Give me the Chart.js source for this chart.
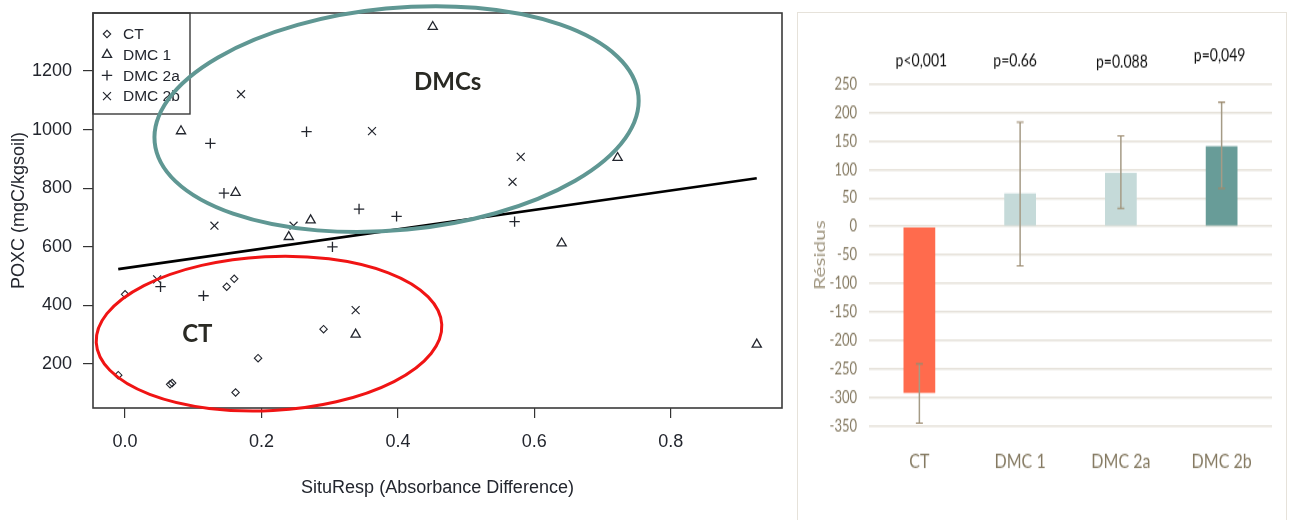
<!DOCTYPE html>
<html><head><meta charset="utf-8">
<script src="https://cdn.jsdelivr.net/npm/chart.js@4/dist/chart.umd.min.js"></script>
<style>
html,body{margin:0;padding:0;background:#fff;width:1291px;height:520px;overflow:hidden;}
#left{position:absolute;left:0;top:0;}
#panel{position:absolute;left:797px;top:12px;width:490px;height:560px;border:1px solid #e6e2da;box-sizing:border-box;}
#right{position:absolute;left:798px;top:13px;transform:scaleY(1.3);transform-origin:0 0;}
</style></head><body>
<canvas id="left" width="790" height="520"></canvas>
<div id="panel"></div>
<canvas id="right" width="488" height="390"></canvas>
<script>
// ---------- Left panel data (scatter) ----------
const ctX    = [-0.010, 0.000, 0.066, 0.069, 0.149, 0.160, 0.162, 0.195, 0.291];
const ctY    = [162, 438, 131, 135, 464, 491, 103, 220, 319];
const dmc1X  = [0.082, 0.162, 0.240, 0.272, 0.451, 0.722, 0.640, 0.338, 0.926];
const dmc1Y  = [995, 785, 634, 691, 1351, 904, 612, 301, 267];
const dmc2aX = [0.125, 0.266, 0.145, 0.343, 0.398, 0.304, 0.571, 0.052, 0.115];
const dmc2aY = [953, 993, 783, 729, 704, 600, 686, 464, 433];
const dmc2bX = [0.170, 0.362, 0.131, 0.247, 0.580, 0.568, 0.047, 0.338];
const dmc2bY = [1121, 995, 672, 672, 907, 822, 489, 384];
const fitX   = [-0.010, 0.926];
const fitY   = [524, 834];
const xTicks = [0, 0.2, 0.4, 0.6, 0.8];
const yTicks = [200, 400, 600, 800, 1000, 1200];

// ---------- Right panel data (bars) ----------
const categories = ['CT', 'DMC 1', 'DMC 2a', 'DMC 2b'];
const residuals  = [-292, 58, 94, 141];
const errorLow   = [-345, -69, 32, 67];
const errorHigh  = [-241, 183, 159, 218];
const pLabels    = ['p<0,001', 'p=0.66', 'p=0.088', 'p=0,049'];
const rightTicks = [250, 200, 150, 100, 50, 0, -50, -100, -150, -200, -250, -300, -350];

const zip = (xs, ys) => xs.map((x, i) => ({x: x, y: ys[i]}));
const RFONT = "'Liberation Sans', Arial, sans-serif";
const INK = '#23262e';
const noPad = s => { s.paddingTop = 0; s.paddingBottom = 0; s.paddingLeft = 0; s.paddingRight = 0; };

// box around plot area
const boxPlugin = {
  id: 'box',
  afterDraw(chart) {
    const a = chart.chartArea, ctx = chart.ctx;
    ctx.save();
    ctx.strokeStyle = '#3a3a3a'; ctx.lineWidth = 1.6;
    ctx.strokeRect(a.left, a.top, a.right - a.left, a.bottom - a.top);
    ctx.restore();
  }
};

// legend drawn inside plot, from datasets
const insetLegend = {
  id: 'insetLegend',
  afterDraw(chart, args, opts) {
    const a = chart.chartArea, ctx = chart.ctx;
    ctx.save();
    ctx.strokeStyle = '#3a3a3a'; ctx.lineWidth = 1.4;
    ctx.strokeRect(a.left, a.top, opts.w, opts.h);
    chart.data.datasets.filter(d => d.inLegend).forEach((ds, i) => {
      const y = a.top + opts.first + i * opts.step;
      ctx.strokeStyle = INK; ctx.fillStyle = 'rgba(0,0,0,0)';
      ctx.lineWidth = ds.borderWidth;
      Chart.helpers.drawPoint(ctx, {pointStyle: ds.pointStyle, radius: ds.pointRadius, borderWidth: ds.borderWidth, rotation: 0}, a.left + opts.sym, y);
      ctx.fillStyle = INK; ctx.font = '15.5px ' + RFONT;
      ctx.textBaseline = 'middle'; ctx.textAlign = 'left';
      ctx.fillText(ds.label, a.left + opts.txt, y + 1);
    });
    ctx.restore();
  }
};

// ellipse annotations + labels, positioned in data coordinates
const groupMarks = {
  id: 'groupMarks',
  afterDraw(chart, args, opts) {
    const ctx = chart.ctx, sx = chart.scales.x, sy = chart.scales.y;
    ctx.save();
    opts.ellipses.forEach(e => {
      ctx.beginPath();
      ctx.ellipse(sx.getPixelForValue(e.cx), sy.getPixelForValue(e.cy), e.rx, e.ry, e.rot * Math.PI / 180, 0, Math.PI * 2);
      ctx.strokeStyle = e.color; ctx.lineWidth = e.width; ctx.stroke();
    });
    opts.texts.forEach(t => {
      ctx.font = "bold 24px Lato, 'Open Sans', sans-serif";
      ctx.fillStyle = '#2a2a24'; ctx.textAlign = 'center'; ctx.textBaseline = 'middle';
      ctx.fillText(t.text, sx.getPixelForValue(t.x), sy.getPixelForValue(t.y));
    });
    ctx.restore();
  }
};

const pointBase = {borderColor: INK, backgroundColor: 'rgba(0,0,0,0)', showLine: false, inLegend: true};

new Chart(document.getElementById('left'), {
  type: 'scatter',
  data: {
    datasets: [
      Object.assign({label: 'CT', data: zip(ctX, ctY), pointStyle: 'rectRot', pointRadius: 3.7, borderWidth: 1.1}, pointBase),
      Object.assign({label: 'DMC 1', data: zip(dmc1X, dmc1Y), pointStyle: 'triangle', pointRadius: 5.3, borderWidth: 1.3}, pointBase),
      Object.assign({label: 'DMC 2a', data: zip(dmc2aX, dmc2aY), pointStyle: 'cross', pointRadius: 5.2, borderWidth: 1.3}, pointBase),
      Object.assign({label: 'DMC 2b', data: zip(dmc2bX, dmc2bY), pointStyle: 'crossRot', pointRadius: 5.6, borderWidth: 1.2}, pointBase),
      {type: 'line', label: 'fit', data: zip(fitX, fitY), borderColor: '#000', borderWidth: 2.6, pointRadius: 0, showLine: true, fill: false, inLegend: false}
    ]
  },
  options: {
    responsive: false, animation: false, events: [],
    layout: {padding: {top: 13, right: 8, left: 0, bottom: 0}},
    plugins: {
      legend: {display: false}, tooltip: {enabled: false},
      insetLegend: {w: 97, h: 101, first: 21, step: 20.7, sym: 14, txt: 30},
      groupMarks: {
        ellipses: [
          {cx: 0.398, cy: 1036, rx: 243, ry: 111, rot: -5.5, color: '#5f9793', width: 4},
          {cx: 0.211, cy: 304, rx: 173, ry: 77, rot: -3, color: '#f01414', width: 3}
        ],
        texts: [{text: 'DMCs', x: 0.473, y: 1160}, {text: 'CT', x: 0.106, y: 302}]
      }
    },
    scales: {
      x: {
        type: 'linear', min: -0.047, max: 0.963,
        afterBuildTicks: s => { s.ticks = xTicks.map(v => ({value: v})); },
        afterFit: s => { s.height = 112; noPad(s); },
        grid: {drawOnChartArea: false, drawTicks: true, tickLength: 10, color: '#333', lineWidth: 1.2},
        border: {display: false},
        ticks: {font: {family: RFONT, size: 18}, color: INK, padding: 13, maxRotation: 0, autoSkip: false, callback: v => Number(v).toFixed(1)},
        title: {display: true, text: 'SituResp (Absorbance Difference)', font: {family: RFONT, size: 18}, color: INK, padding: {top: 0, bottom: 21}}
      },
      y: {
        type: 'linear', min: 50, max: 1398,
        afterBuildTicks: s => { s.ticks = yTicks.map(v => ({value: v})); },
        afterFit: s => { s.width = 93; noPad(s); },
        grid: {drawOnChartArea: false, drawTicks: true, tickLength: 10, color: '#333', lineWidth: 1.2},
        border: {display: false},
        ticks: {font: {family: RFONT, size: 18}, color: INK, padding: 11, autoSkip: false, callback: v => String(v)},
        title: {display: true, text: 'POXC (mgC/kgsoil)', font: {family: RFONT, size: 18}, color: INK, padding: {top: 8, bottom: 0}}
      }
    }
  },
  plugins: [boxPlugin, insetLegend, groupMarks]
});

// ---------- Right chart ----------
const errorBars = {
  id: 'errorBars',
  afterDatasetsDraw(chart, args, opts) {
    const ctx = chart.ctx, sy = chart.scales.y;
    const meta = chart.getDatasetMeta(0);
    ctx.save();
    meta.data.forEach((bar, i) => {
      const yh = sy.getPixelForValue(errorHigh[i]), yl = sy.getPixelForValue(errorLow[i]);
      ctx.strokeStyle = opts.color; ctx.lineWidth = 1.5;
      ctx.beginPath(); ctx.moveTo(bar.x, yh); ctx.lineTo(bar.x, yl); ctx.stroke();
      ctx.strokeStyle = opts.capColor; ctx.lineWidth = 1.1;
      ctx.beginPath();
      ctx.moveTo(bar.x - opts.cap, yh); ctx.lineTo(bar.x + opts.cap, yh);
      ctx.moveTo(bar.x - opts.cap, yl); ctx.lineTo(bar.x + opts.cap, yl);
      ctx.stroke();
    });
    ctx.restore();
  }
};
const pTexts = {
  id: 'pTexts',
  afterDraw(chart, args, opts) {
    const ctx = chart.ctx, sx = chart.scales.x;
    ctx.save();
    ctx.font = "14px Lato, 'Open Sans', sans-serif"; ctx.fillStyle = '#111';
    ctx.textAlign = 'center'; ctx.textBaseline = 'middle';
    pLabels.forEach((t, i) => {
      ctx.fillText(t, sx.getPixelForValue(i) + opts.dx[i], opts.y + opts.dy[i]);
    });
    ctx.restore();
  }
};

new Chart(document.getElementById('right'), {
  type: 'bar',
  data: {
    labels: categories,
    datasets: [{
      label: 'Résidus', data: residuals,
      backgroundColor: ['#ff6b4d', '#c5dad9', '#c5dad9', '#689c98'],
      borderWidth: 0, barPercentage: 0.315, categoryPercentage: 1
    }]
  },
  options: {
    responsive: false, animation: false, events: [],
    layout: {padding: {top: 54.6, right: 14, left: 0, bottom: 0}},
    plugins: {
      legend: {display: false}, tooltip: {enabled: false},
      errorBars: {color: '#a59b86', capColor: '#9c8a6e', cap: 3.5},
      pTexts: {y: 36, dx: [2, -5, 1, -2], dy: [0, 0, 1.5, -3.5]}
    },
    scales: {
      x: {
        grid: {display: false, drawTicks: false}, border: {display: false},
        afterFit: s => { s.height = 72.3; noPad(s); },
        ticks: {font: {family: "Lato, 'Open Sans', sans-serif", size: 16}, color: '#857a62', padding: 18}
      },
      y: {
        min: -350, max: 250,
        afterBuildTicks: s => { s.ticks = rightTicks.map(v => ({value: v})); },
        afterFit: s => { s.width = 71; noPad(s); },
        grid: {color: '#e6e2da', lineWidth: 1.5, drawTicks: false},
        border: {display: false},
        ticks: {font: {family: "Lato, 'Open Sans', sans-serif", size: 13}, color: '#857a62', padding: 12, autoSkip: false},
        title: {display: true, text: 'Résidus', font: {family: "Lato, 'Open Sans', sans-serif", size: 16}, color: '#a09680', padding: {top: 12, bottom: 0}}
      }
    }
  },
  plugins: [errorBars, pTexts]
});
</script>
</body></html>
